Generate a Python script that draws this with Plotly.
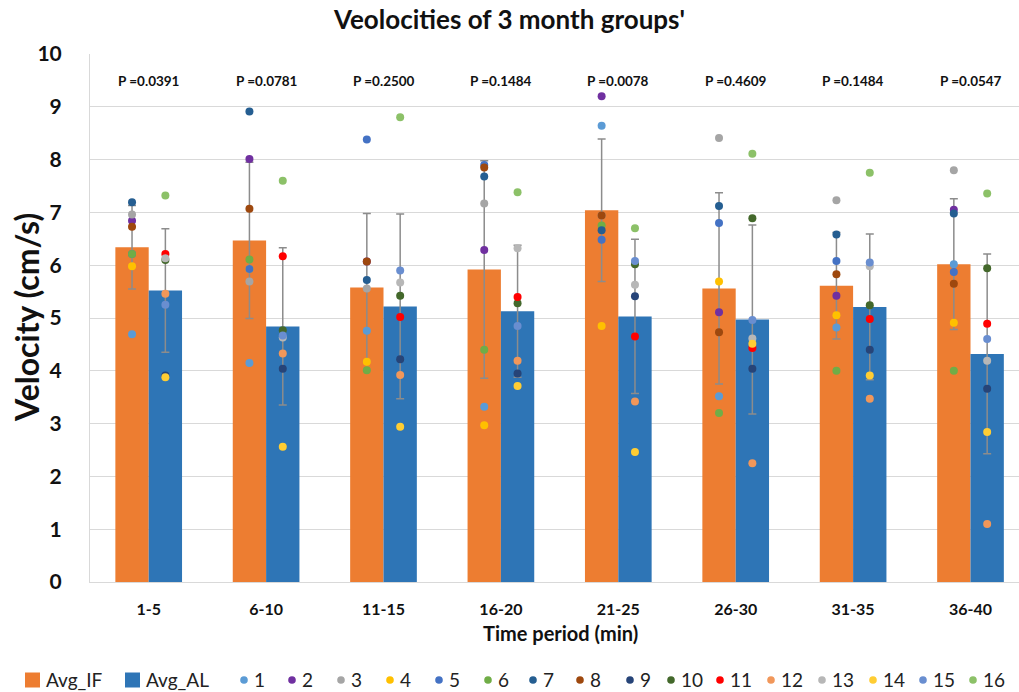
import plotly.graph_objects as go

# ---------------- data ----------------
categories = ["1-5", "6-10", "11-15", "16-20", "21-25", "26-30", "31-35", "36-40"]
p_values = ["P =0.0391", "P =0.0781", "P =0.2500", "P =0.1484",
            "P =0.0078", "P =0.4609", "P =0.1484", "P =0.0547"]

avg_if = [6.34, 6.47, 5.58, 5.92, 7.04, 5.56, 5.61, 6.02]
avg_if_err = [0.79, 1.48, 1.40, 2.06, 1.35, 1.81, 1.01, 1.24]
avg_al = [5.52, 4.84, 5.22, 5.13, 5.03, 4.97, 5.21, 4.32]
avg_al_err = [1.17, 1.49, 1.75, 1.25, 1.46, 1.79, 1.38, 1.89]

# individual subjects (1-8 -> IF bars, 9-16 -> AL bars)
s1 = [4.69, 4.15, 4.76, 3.32, 8.64, 3.52, 4.82, 6.02]
s2 = [6.84, 8.01, 6.07, 6.29, 9.20, 5.11, 5.42, 7.05]
s3 = [6.96, 5.69, 5.56, 7.17, 6.94, 8.41, 7.23, 7.80]
s4 = [5.98, 5.93, 4.17, 2.97, 4.85, 5.69, 5.05, 4.91]
s5 = [6.21, 5.93, 8.38, 7.90, 6.48, 6.80, 6.08, 5.87]
s6 = [6.21, 6.11, 4.01, 4.40, 6.75, 3.20, 4.00, 4.00]
s7 = [7.19, 8.91, 5.72, 7.68, 6.66, 7.12, 6.58, 6.98]
s8 = [6.73, 7.07, 6.07, 7.85, 6.94, 4.73, 5.83, 5.65]
s9 = [3.91, 4.04, 4.22, 3.95, 5.41, 4.04, 4.40, 3.66]
s10 = [6.10, 4.77, 5.42, 5.28, 6.02, 6.89, 5.24, 5.94]
s11 = [6.21, 6.17, 5.02, 5.40, 4.65, 4.43, 4.98, 4.89]
s12 = [5.46, 4.33, 3.92, 4.19, 3.42, 2.25, 3.47, 1.10]
s13 = [6.13, 4.63, 5.67, 6.32, 5.63, 4.61, 5.98, 4.19]
s14 = [3.88, 2.56, 2.94, 3.71, 2.46, 4.51, 3.91, 2.84]
s15 = [5.25, 4.67, 5.90, 4.85, 6.08, 4.96, 6.05, 4.60]
s16 = [7.32, 7.60, 8.80, 7.38, 6.70, 8.11, 7.75, 7.36]

subject_names = [str(i) for i in range(1, 17)]
subject_values = [s1, s2, s3, s4, s5, s6, s7, s8, s9, s10, s11, s12, s13, s14, s15, s16]
subject_colors = ["#5B9BD5", "#7030A0", "#A5A5A5", "#FFC000", "#4472C4", "#70AD47",
                  "#255E91", "#9E480E", "#264478", "#43682B", "#FF0000", "#F1975A",
                  "#B7B7B7", "#FFCD33", "#698ED0", "#8CC168"]

bar_names = ["Avg_IF", "Avg_AL"]
bar_colors = ["#ED7D31", "#2E75B6"]

# ---------------- layout constants ----------------
FIG_W, FIG_H = 1019, 692
L, T, PW, PH = 90, 54, 929, 528          # plot box in pixels
BAR_W = 0.284                             # width of one bar (category units)
FONT = "Lato, Noto Sans, sans-serif"

xi = list(range(len(categories)))

fig = go.Figure()

err_style = dict(type="data", visible=True, color="#8C8C8C", thickness=1.5, width=4)
fig.add_trace(go.Bar(x=xi, y=avg_if, name=bar_names[0], marker=dict(color=bar_colors[0], line_width=0),
                     error_y=dict(array=avg_if_err, **err_style)))
fig.add_trace(go.Bar(x=xi, y=avg_al, name=bar_names[1], marker=dict(color=bar_colors[1], line_width=0),
                     error_y=dict(array=avg_al_err, **err_style)))

for k, (nm, vals, col) in enumerate(zip(subject_names, subject_values, subject_colors)):
    off = -BAR_W / 2 if k < 8 else BAR_W / 2
    fig.add_trace(go.Scatter(x=[x + off for x in xi], y=vals, mode="markers", name=nm,
                             marker=dict(color=col, size=8, line_width=0)))

# p-value annotations
for x, p in zip(xi, p_values):
    fig.add_annotation(x=x, y=9.49, xref="x", yref="y", text=p, showarrow=False,
                       xanchor="center", yanchor="middle",
                       font=dict(family=FONT, size=13.5, color="#111111", weight="bold"))


def px2x(px):
    return (px - L) / PW


def py2y(py):
    return (T + PH - py) / PH


# axis titles
fig.add_annotation(x=px2x(560), y=py2y(633), xref="paper", yref="paper", text="Time period (min)",
                   xanchor="center", yanchor="middle", showarrow=False,
                   font=dict(family=FONT, size=20, color="#111111", weight="bold"))
fig.add_annotation(x=px2x(26), y=py2y(318), xref="paper", yref="paper", text="Velocity (cm/s)",
                   xanchor="center", yanchor="middle", textangle=-90, showarrow=False,
                   font=dict(family=FONT, size=32, color="#111111", weight="bold"))

# ---------------- manual legend ----------------
leg_cy = 680
leg_font = dict(family=FONT, size=19, color="#222222")
bar_leg_x = [25, 125]
for bx, nm, col in zip(bar_leg_x, bar_names, bar_colors):
    fig.add_shape(type="rect", xref="paper", yref="paper",
                  x0=px2x(bx), x1=px2x(bx + 15), y0=py2y(leg_cy + 7.5), y1=py2y(leg_cy - 7.5),
                  fillcolor=col, line_width=0)
    fig.add_annotation(x=px2x(bx + 19), y=py2y(leg_cy - 1), xref="paper", yref="paper", text=nm,
                       xanchor="left", yanchor="middle", showarrow=False, font=leg_font)

dot_leg_x = [244, 292, 341, 390, 439, 488, 533, 580, 630, 671, 720, 771, 822, 873, 923, 973]
r = 3.8
for dx, nm, col in zip(dot_leg_x, subject_names, subject_colors):
    fig.add_shape(type="circle", xref="paper", yref="paper",
                  x0=px2x(dx - r), x1=px2x(dx + r), y0=py2y(leg_cy + r), y1=py2y(leg_cy - r),
                  fillcolor=col, line_width=0)
    fig.add_annotation(x=px2x(dx + 8), y=py2y(leg_cy - 1), xref="paper", yref="paper", text=nm,
                       xanchor="left", yanchor="middle", showarrow=False, font=leg_font)

fig.update_layout(
    width=FIG_W, height=FIG_H,
    margin=dict(l=L, r=FIG_W - L - PW, t=T, b=FIG_H - T - PH, pad=0),
    paper_bgcolor="white", plot_bgcolor="white",
    barmode="group", bargap=1 - 2 * BAR_W, bargroupgap=0,
    showlegend=False,
    title=dict(text="Veolocities of 3 month groups'", x=0.5, xref="container", xanchor="center",
               y=1 - 20 / FIG_H, yanchor="middle",
               font=dict(family=FONT, size=26, color="#111111", weight="bold")),
    xaxis=dict(range=[-0.5, -0.5 + PW / 117.4], tickmode="array", tickvals=xi, ticktext=categories,
               showgrid=False, zeroline=False, showline=True, linecolor="#D9D9D9", linewidth=1,
               ticks="", ticklabelstandoff=13,
               tickfont=dict(family=FONT, size=16, color="#111111", weight="bold")),
    yaxis=dict(range=[0, 10], dtick=1, showgrid=True, gridcolor="#D9D9D9", gridwidth=1,
               zeroline=False, showline=True, linecolor="#D9D9D9", linewidth=1, ticks="",
               ticklabelstandoff=23,
               tickfont=dict(family=FONT, size=21, color="#111111", weight="bold")),
)

fig.write_html("out.html")
